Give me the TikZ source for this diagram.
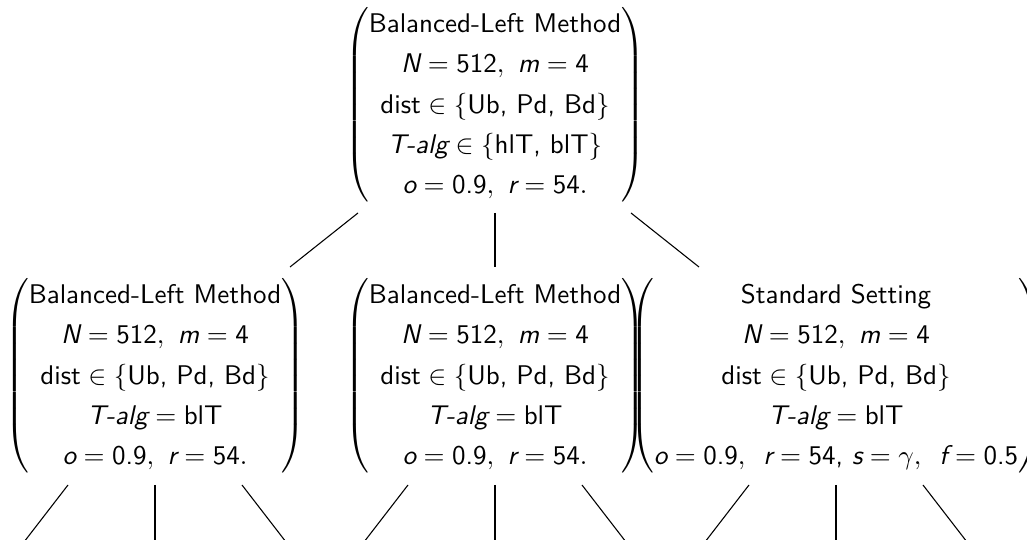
\documentclass[tikz,border=0pt]{standalone}
\usepackage{amsmath}
\usetikzlibrary{calc}
\renewcommand\arraystretch{1.24}
\newcommand\ptab[1]{$\left(\begin{tabular}{@{}c@{}}#1\end{tabular}\right)$}
\newcommand\rowN{$\textit{N} = \text{512},\ \textit{m} = \text{4}$}
\newcommand\rowD{$\text{dist} \in \{\text{Ub, Pd, Bd}\}$}
\newcommand\rowOR{$\textit{o} = \text{0.9},\ \textit{r} = \text{54}.$}
\newcommand\rowTb{$\textit{T-alg} = \text{blT}$}
\tikzset{
  treebox/.style={inner sep=0pt, outer sep=0pt, font=\sffamily},
  treeedge/.style={draw=black, line width=0.4pt},
}
\begin{document}
\begin{tikzpicture}[x=0.3704pt, y=-0.3704pt]
\useasboundingbox (0,0) rectangle (1027,540);
\node[treebox] (top) at (495,105) {\ptab{Balanced-Left Method\\ \rowN\\ \rowD\\ $\textit{T-alg} \in \{\text{hlT, blT}\}$\\ \rowOR}};
\node[treebox] (c1) at (155,376) {\ptab{Balanced-Left Method\\ \rowN\\ \rowD\\ \rowTb\\ \rowOR}};
\node[treebox] (c2) at (495,376) {\ptab{Balanced-Left Method\\ \rowN\\ \rowD\\ \rowTb\\ \rowOR}};
\node[treebox] (c3) at (836,376) {\ptab{Standard Setting\\ \rowN\\ \rowD\\ \rowTb\\ $\textit{o} = \text{0.9},\ \,\textit{r} = \text{54, }\textit{s} = \gamma,\ \,\textit{f} = \text{0.5}$}};
% edges from the root
\draw[treeedge] ($(top)+(-137,108)$) -- ($(c1)+(135,-109)$);
\draw[treeedge] ($(top)+(0,108)$) -- ($(c2)+(0,-109)$);
\draw[treeedge] ($(top)+(136,108)$) -- ($(c3)+(-137,-109)$);
% edges to children below the picture
\foreach \n in {c1,c2,c3}{
  \coordinate (\n-a) at ($(\n)+(-131,166)$);
  \coordinate (\n-b) at ($(\n)+(0,166)$);
  \coordinate (\n-c) at ($(\n)+(131,166)$);
  \draw[treeedge] ($(\n)+(-87,109)$) -- (\n-a);
  \draw[treeedge] ($(\n)+(0,109)$) -- (\n-b);
  \draw[treeedge] ($(\n)+(87,109)$) -- (\n-c);
}
\end{tikzpicture}
\end{document}
